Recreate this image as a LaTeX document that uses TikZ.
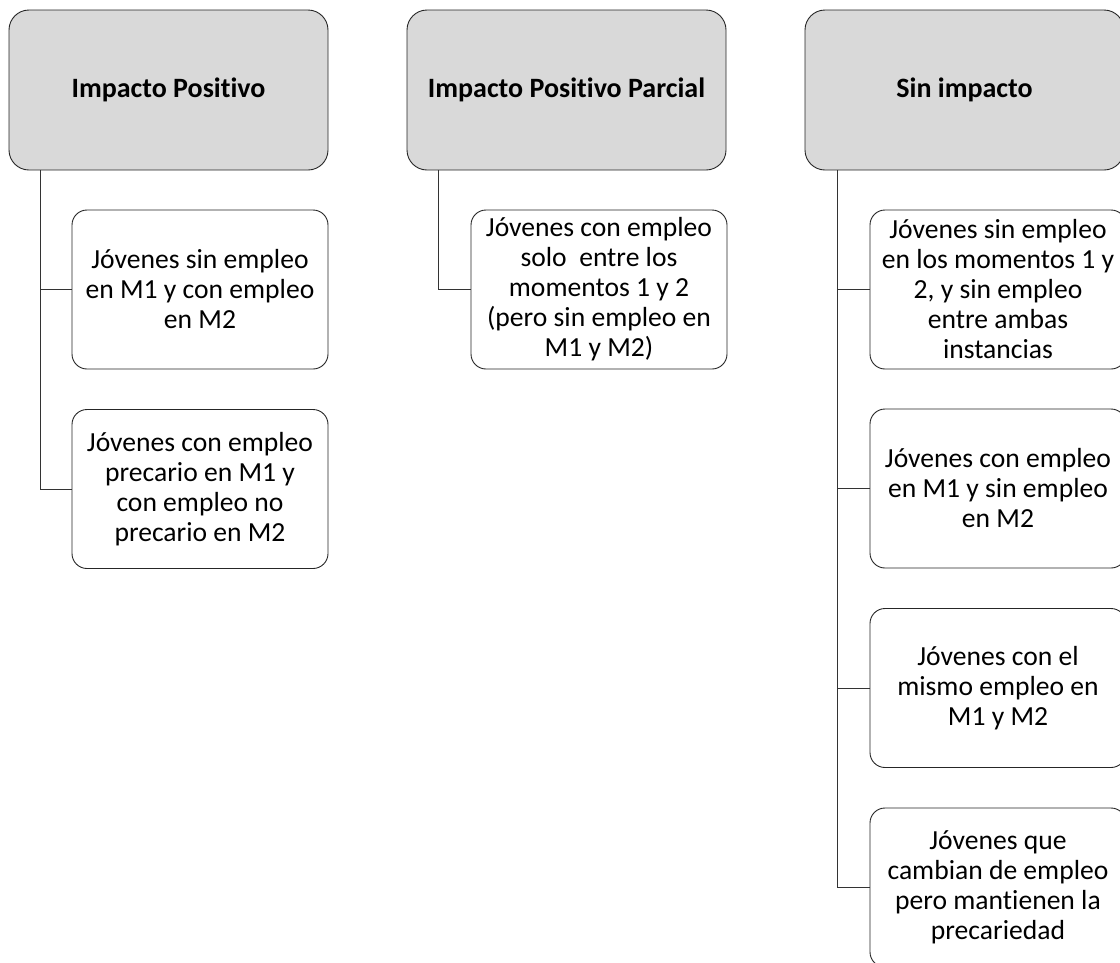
\documentclass[tikz,border=0pt]{standalone}
\usepackage{fontspec}
\setmainfont{Carlito}[Ligatures=NoCommon]
\begin{document}
\begin{tikzpicture}[x=1pt,y=-1pt,
  head/.style={draw=black!85,line width=0.9pt,fill=black!15,rounded corners=20pt,
    minimum width=319pt,minimum height=160pt,inner sep=0pt,align=center,
    font=\fontsize{28}{30}\selectfont\bfseries},
  child/.style={draw=black!85,line width=0.9pt,fill=white,rounded corners=15pt,
    minimum width=256pt,minimum height=159pt,inner sep=0pt,align=center,
    font=\fontsize{27.6}{30}\selectfont},
  link/.style={draw=black!80,line width=0.9pt}]
\clip (0,0) rectangle (1120,962);
\fill[white] (0,0) rectangle (1120,962);
% headers
\node[head] (h1) at (168.5,90) {Impacto Positivo};
\node[head] (h2) at (566.5,90) {Impacto Positivo Parcial};
\node[head] (h3) at (964.5,90) {Sin impacto};
% column 1
\node[child] (c11) at (200,289.5) {Jóvenes sin empleo\\en M1 y con empleo\\en M2};
\node[child] (c12) at (200,489) {Jóvenes con empleo\\precario en M1 y\\con empleo no\\precario en M2};
% column 2
\node[child] (c21) at (599,289.5) {Jóvenes con empleo\\solo\ \ entre los\\momentos 1 y 2\\(pero sin empleo en\\M1 y M2)};
% column 3
\node[child] (c31) at (998,289.5) {Jóvenes sin empleo\\en los momentos 1 y\\2, y sin empleo\\entre ambas\\instancias};
\node[child] (c32) at (998,488.5) {Jóvenes con empleo\\en M1 y sin empleo\\en M2};
\node[child] (c33) at (998,688) {Jóvenes con el\\mismo empleo en\\M1 y M2};
\node[child] (c34) at (998,887.5) {Jóvenes que\\cambian de empleo\\pero mantienen la\\precariedad};
% connectors
\coordinate (t1) at ([xshift=32pt]h1.south west);
\coordinate (t2) at ([xshift=32pt]h2.south west);
\coordinate (t3) at ([xshift=33pt]h3.south west);
\draw[link] (t1) |- (c11.west);
\draw[link] (t1) |- (c12.west);
\draw[link] (t2) |- (c21.west);
\draw[link] (t3) |- (c31.west);
\draw[link] (t3) |- (c32.west);
\draw[link] (t3) |- (c33.west);
\draw[link] (t3) |- (c34.west);
\end{tikzpicture}
\end{document}
